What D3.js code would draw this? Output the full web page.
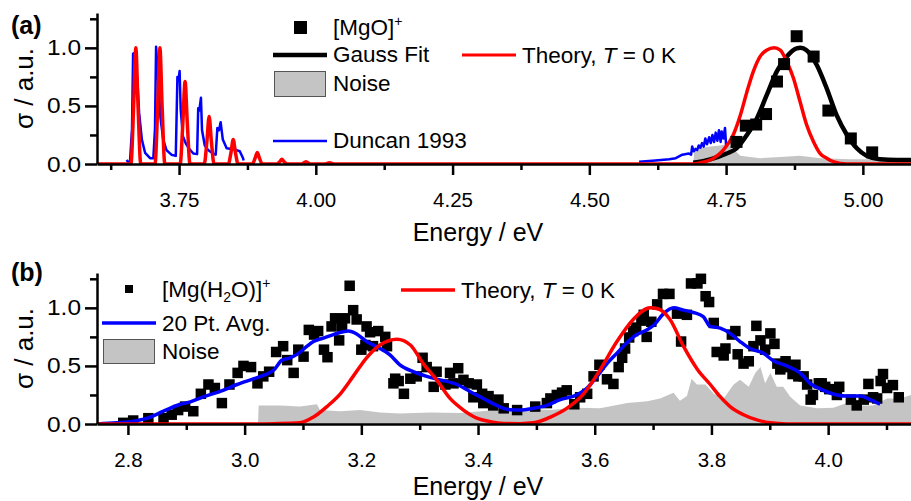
<!DOCTYPE html>
<head>
  <meta charset="utf-8" />
  <script src="https://d3js.org/d3.v7.min.js"></script>
  <style>
    body { margin: 0; background: #fff; }
    svg { font-family: "Liberation Sans", Arial, sans-serif; }
  </style>
</head>
<body>
<script>
// ---- panel (a) : [MgO]+ ----
var mgoPoints = [[4.769,0.19],[4.786,0.33],[4.805,0.34],[4.823,0.43],[4.843,0.71],[4.856,0.86],
  [4.879,1.10],[4.910,0.925],[4.937,0.46],[4.978,0.22],[5.017,0.10]];
var mgoFit = [[4.690,0.01],[4.721,0.04],[4.751,0.09],[4.769,0.135],[4.788,0.25],[4.806,0.39],
  [4.824,0.59],[4.843,0.80],[4.861,0.925],[4.879,0.995],[4.886,1.0],[4.897,0.98],[4.916,0.85],
  [4.934,0.65],[4.952,0.42],[4.971,0.25],[4.989,0.135],[5.007,0.07],[5.031,0.04],[5.062,0.035],[5.088,0.035]];
var mgoTheory = [[3.600,0],
  [3.662,0],[3.667,0.5],[3.671,1.0],[3.675,0.5],[3.680,0],
  [3.706,0],[3.711,0.5],[3.715,1.0],[3.719,0.5],[3.724,0],
  [3.752,0],[3.757,0.36],[3.761,0.71],[3.765,0.36],[3.770,0],
  [3.796,0],[3.801,0.2],[3.805,0.41],[3.809,0.2],[3.814,0],
  [3.840,0],[3.845,0.1],[3.849,0.21],[3.853,0.1],[3.858,0],
  [3.884,0],[3.889,0.05],[3.893,0.10],[3.897,0.05],[3.902,0],
  [3.929,0],[3.934,0.02],[3.938,0.04],[3.942,0.02],[3.947,0],
  [3.974,0],[3.982,0.02],[3.990,0],
  [4.017,0],[4.025,0.01],[4.033,0],
  [4.690,0],[4.702,0.01],[4.727,0.05],[4.745,0.12],[4.763,0.25],[4.776,0.42],[4.788,0.62],
  [4.800,0.80],[4.812,0.925],[4.824,0.98],[4.838,1.0],[4.849,0.98],[4.861,0.88],[4.873,0.74],
  [4.885,0.54],[4.897,0.34],[4.910,0.19],[4.922,0.09],[4.934,0.05],[4.946,0.02],[4.971,0],[5.088,0]];
var mgoNoise = [[4.690,0],[4.692,0.12],[4.702,0.14],[4.721,0.15],[4.739,0.16],[4.752,0.17],[4.761,0.14],
  [4.776,0.07],[4.812,0.05],[4.849,0.06],[4.885,0.07],[4.922,0.05],[4.977,0.04],[5.031,0.04],[5.088,0.03]];
var duncanLow = [[3.654,0.034],[3.660,0.0],[3.664,0.3],[3.666,0.95],[3.670,0.96],[3.674,0.7],[3.677,0.44],
  [3.682,0.21],[3.688,0.095],[3.697,0.05],[3.703,0.05],[3.706,0.3],[3.708,1.01],[3.712,0.72],[3.716,0.4],
  [3.721,0.21],[3.727,0.12],[3.736,0.08],[3.744,0.07],[3.747,0.75],[3.749,0.72],[3.751,0.80],[3.753,0.47],
  [3.757,0.24],[3.762,0.18],[3.767,0.14],[3.776,0.09],[3.783,0.085],[3.785,0.48],[3.787,0.46],[3.790,0.57],
  [3.792,0.29],[3.797,0.16],[3.803,0.12],[3.812,0.09],[3.817,0.08],[3.820,0.31],[3.823,0.29],[3.826,0.36],
  [3.830,0.21],[3.837,0.135],[3.846,0.13],[3.855,0.12],[3.861,0.11],[3.867,0.05],[3.868,0.03]];
var duncanHigh = [[4.591,0.02],[4.621,0.03],[4.646,0.04],[4.658,0.05],[4.670,0.08],[4.682,0.09],[4.686,0.08],
  [4.688,0.15],[4.691,0.11],[4.694,0.13],[4.697,0.12],[4.700,0.16],[4.703,0.14],[4.706,0.18],[4.709,0.15],
  [4.712,0.22],[4.715,0.17],[4.719,0.23],[4.722,0.18],[4.725,0.25],[4.728,0.19],[4.731,0.27],[4.734,0.20],
  [4.737,0.29],[4.740,0.19],[4.742,0.28],[4.745,0.22],[4.748,0.31],[4.750,0.16]];

// ---- panel (b) : [Mg(H2O)]+ ----
var mgwPoints = [[2.792,0.01],[2.809,0.03],[2.835,0.05],[2.861,0.05],[2.875,0.08],[2.886,0.12],[2.898,0.15],
  [2.912,0.11],[2.925,0.26],[2.938,0.34],[2.949,0.31],[2.961,0.18],[2.974,0.34],[2.988,0.44],[2.998,0.50],
  [3.011,0.49],[3.022,0.35],[3.032,0.41],[3.042,0.45],[3.054,0.62],[3.066,0.67],[3.073,0.55],[3.084,0.44],
  [3.092,0.64],[3.101,0.58],[3.110,0.81],[3.119,0.77],[3.126,0.80],[3.136,0.64],[3.142,0.575],[3.149,0.84],
  [3.155,0.91],[3.162,0.72],[3.167,0.84],[3.172,0.91],[3.180,1.19],[3.186,0.98],[3.192,0.90],[3.200,0.64],
  [3.207,0.68],[3.209,0.84],[3.215,0.79],[3.220,0.67],[3.229,0.80],[3.241,0.75],[3.244,0.67],[3.255,0.35],
  [3.258,0.39],[3.264,0.37],[3.273,0.26],[3.284,0.39],[3.295,0.41],[3.305,0.57],[3.312,0.49],[3.324,0.32],
  [3.329,0.45],[3.344,0.34],[3.352,0.44],[3.358,0.35],[3.366,0.48],[3.375,0.38],[3.384,0.35],[3.392,0.23],
  [3.398,0.34],[3.407,0.26],[3.409,0.18],[3.418,0.24],[3.426,0.16],[3.435,0.21],[3.444,0.135],[3.467,0.12],
  [3.498,0.15],[3.518,0.18],[3.524,0.22],[3.535,0.25],[3.544,0.27],[3.552,0.29],[3.565,0.17],[3.575,0.23],
  [3.587,0.26],[3.598,0.41],[3.608,0.51],[3.621,0.385],[3.632,0.345],[3.641,0.49],[3.647,0.57],[3.652,0.65],
  [3.659,0.745],[3.666,0.80],[3.671,0.83],[3.680,0.89],[3.684,0.94],[3.689,0.75],[3.697,0.88],[3.707,1.03],
  [3.717,1.12],[3.728,1.12],[3.741,0.95],[3.748,0.71],[3.758,0.94],[3.765,1.21],[3.776,1.21],[3.782,1.25],
  [3.790,1.10],[3.796,1.05],[3.804,0.87],[3.809,0.62],[3.821,0.59],[3.824,0.65],[3.835,0.77],[3.841,0.80],
  [3.845,0.60],[3.855,0.52],[3.864,0.54],[3.872,0.67],[3.877,0.845],[3.884,0.72],[3.892,0.64],[3.901,0.78],
  [3.908,0.69],[3.913,0.52],[3.918,0.47],[3.927,0.54],[3.932,0.49],[3.939,0.43],[3.944,0.51],[3.949,0.41],
  [3.958,0.41],[3.964,0.34],[3.970,0.21],[3.974,0.25],[3.984,0.35],[3.989,0.35],[3.995,0.32],[4.002,0.30],
  [4.015,0.25],[4.019,0.32],[4.039,0.21],[4.049,0.16],[4.061,0.21],[4.069,0.345],[4.077,0.23],[4.084,0.22],
  [4.090,0.37],[4.094,0.43],[4.101,0.31],[4.111,0.335],[4.121,0.23]];
var mgwAvg = [[2.747,0.0],[2.781,0.01],[2.804,0.02],[2.833,0.05],[2.861,0.11],[2.890,0.17],[2.907,0.19],
  [2.930,0.235],[2.958,0.28],[2.987,0.34],[3.016,0.39],[3.033,0.42],[3.050,0.465],[3.064,0.55],[3.078,0.57],
  [3.093,0.61],[3.107,0.67],[3.118,0.71],[3.135,0.74],[3.152,0.77],[3.178,0.80],[3.192,0.775],[3.209,0.71],
  [3.232,0.65],[3.249,0.595],[3.266,0.51],[3.289,0.45],[3.312,0.41],[3.335,0.38],[3.364,0.34],[3.386,0.28],
  [3.409,0.22],[3.432,0.16],[3.449,0.127],[3.472,0.12],[3.495,0.135],[3.518,0.16],[3.541,0.21],[3.564,0.24],
  [3.587,0.31],[3.604,0.41],[3.621,0.52],[3.638,0.61],[3.655,0.70],[3.672,0.77],[3.689,0.81],[3.701,0.85],
  [3.718,0.95],[3.735,1.0],[3.752,0.98],[3.769,0.96],[3.786,0.925],[3.798,0.84],[3.815,0.825],[3.832,0.78],
  [3.849,0.71],[3.866,0.65],[3.889,0.61],[3.906,0.545],[3.929,0.50],[3.952,0.44],[3.969,0.35],[3.992,0.29],
  [4.015,0.25],[4.032,0.24],[4.055,0.24],[4.072,0.21],[4.089,0.17]];
var mgwTheory = [[2.747,0],[3.000,0],[3.050,0.003],[3.095,0.01],[3.118,0.06],[3.141,0.15],[3.164,0.26],
  [3.186,0.41],[3.209,0.57],[3.232,0.68],[3.261,0.73],[3.284,0.68],[3.306,0.52],[3.329,0.38],[3.352,0.22],
  [3.375,0.12],[3.398,0.05],[3.421,0.02],[3.444,0.005],[3.472,0.003],[3.495,0.01],[3.524,0.06],[3.552,0.135],
  [3.581,0.26],[3.609,0.465],[3.638,0.71],[3.666,0.90],[3.695,1.0],[3.709,0.99],[3.729,0.90],[3.752,0.67],
  [3.776,0.47],[3.798,0.34],[3.815,0.235],[3.832,0.15],[3.855,0.08],[3.878,0.035],[3.901,0.01],[3.929,0],[4.142,0]];
var mgwNoise = [[3.023,0],[3.024,0.16],[3.061,0.16],[3.095,0.15],[3.124,0.17],[3.129,0.12],[3.164,0.11],
  [3.198,0.12],[3.232,0.10],[3.266,0.09],[3.318,0.10],[3.369,0.095],[3.416,0.115],[3.450,0.13],[3.489,0.13],
  [3.524,0.12],[3.566,0.14],[3.609,0.135],[3.656,0.18],[3.690,0.195],[3.712,0.22],[3.735,0.27],[3.746,0.20],
  [3.758,0.24],[3.766,0.39],[3.775,0.34],[3.790,0.34],[3.804,0.26],[3.821,0.22],[3.838,0.34],[3.849,0.38],
  [3.864,0.32],[3.875,0.44],[3.884,0.49],[3.892,0.35],[3.901,0.44],[3.912,0.32],[3.923,0.32],[3.935,0.235],
  [3.952,0.16],[3.981,0.135],[4.009,0.14],[4.032,0.18],[4.055,0.16],[4.077,0.16],[4.101,0.22],[4.124,0.22],[4.142,0.25]];

// ---- ticks ----
var ticksA = [3.75, 4.00, 4.25, 4.50, 4.75, 5.00];
var minorA = [3.625, 3.875, 4.125, 4.375, 4.625, 4.875];
var ticksB = [2.8, 3.0, 3.2, 3.4, 3.6, 3.8, 4.0];
var minorB = [2.9, 3.1, 3.3, 3.5, 3.7, 3.9, 4.1];
var yTicks = [0, 0.5, 1.0];
var yMinor = [0.25, 0.75, 1.25];

var width = 911, height = 501;
var svg = d3.select("body").append("svg")
  .attr("width", width).attr("height", height);

function panel(id, xDom, top, bottom, xTicks, xMinor, xFmt, titleY) {
  var x = d3.scaleLinear().domain(xDom).range([97, 911]);
  var y = d3.scaleLinear().domain([0, 1.3]).range([bottom, top]);
  var g = svg.append("g");
  svg.append("clipPath").attr("id", id)
    .append("rect").attr("x", 97).attr("y", top - 10).attr("width", 814).attr("height", bottom - top + 10);
  var plot = g.append("g").attr("clip-path", "url(#" + id + ")");

  // axes
  var xa = g.append("g").attr("transform", "translate(0," + bottom + ")")
    .call(d3.axisBottom(x).tickValues(xTicks).tickFormat(d3.format(xFmt))
      .tickSize(11).tickSizeOuter(0).tickPadding(17));
  g.append("g").attr("transform", "translate(0," + bottom + ")")
    .call(d3.axisBottom(x).tickValues(xMinor).tickFormat("").tickSize(6).tickSizeOuter(0))
    .select(".domain").remove();
  var ya = g.append("g").attr("transform", "translate(97,0)")
    .call(d3.axisLeft(y).tickValues(yTicks).tickFormat(d3.format(".1f"))
      .tickSize(12).tickSizeOuter(0).tickPadding(4));
  g.append("g").attr("transform", "translate(97,0)")
    .call(d3.axisLeft(y).tickValues(yMinor).tickFormat("").tickSize(7).tickSizeOuter(0))
    .select(".domain").remove();
  g.selectAll("g").attr("font-family", null).attr("font-size", null);
  g.selectAll(".domain, .tick line").attr("stroke", "#000").attr("stroke-width", 2.5);
  xa.selectAll("text").attr("font-size", 20.5).attr("fill", "#000");
  ya.selectAll("text").attr("font-size", 22).attr("fill", "#000")
    .attr("textLength", 34).attr("lengthAdjust", "spacingAndGlyphs");

  g.append("text").attr("x", 478).attr("y", titleY)
    .attr("text-anchor", "middle").attr("font-size", 25).text("Energy / eV");
  g.append("text").attr("transform", "translate(33," + (top + bottom) / 2 + ") rotate(-90)")
    .attr("text-anchor", "middle").attr("font-size", 26).text("σ / a.u.");
  return {x: x, y: y, g: g, plot: plot};
}

function line(p, data, color, w, curve) {
  p.plot.append("path").datum(data)
    .attr("fill", "none").attr("stroke", color).attr("stroke-width", w)
    .attr("stroke-linejoin", "round")
    .attr("d", d3.line().x(d => p.x(d[0])).y(d => p.y(d[1])).curve(curve || d3.curveLinear));
}
function noise(p, data) {
  p.plot.append("path").datum(data).attr("fill", "#c4c4c4")
    .attr("d", d3.area().x(d => p.x(d[0])).y0(p.y(0)).y1(d => p.y(d[1])));
}
function squares(p, data, s) {
  p.plot.selectAll(null).data(data).join("rect")
    .attr("x", d => p.x(d[0]) - s / 2).attr("y", d => p.y(d[1]) - s / 2)
    .attr("width", s).attr("height", s).attr("fill", "#000");
}

// panel (a)
var a = panel("clipA", [3.6, 5.088], 13, 164, ticksA, minorA, ".2f", 241);
noise(a, mgoNoise);
line(a, duncanLow, "#0000ff", 2.5);
line(a, duncanHigh, "#0000ff", 2.5);
line(a, mgoFit, "#000", 4.5, d3.curveMonotoneX);
line(a, mgoTheory, "#ff0000", 3.5, d3.curveMonotoneX);
squares(a, mgoPoints, 12);

// panel (b)
var b = panel("clipB", [2.747, 4.142], 273, 424, ticksB, minorB, ".1f", 495);
noise(b, mgwNoise);
squares(b, mgwPoints, 10.5);
line(b, mgwAvg, "#0000ff", 3.5, d3.curveMonotoneX);
line(b, mgwTheory, "#ff0000", 3.5, d3.curveMonotoneX);

// panel labels
svg.append("text").attr("x", 11).attr("y", 34).attr("font-size", 25).attr("font-weight", "bold").text("(a)");
svg.append("text").attr("x", 11).attr("y", 281).attr("font-size", 25).attr("font-weight", "bold").text("(b)");

// legends
var L = svg.append("g").attr("font-size", 22.5);
L.append("rect").attr("x", 294).attr("y", 21).attr("width", 13).attr("height", 13).attr("fill", "#000");
var t1 = L.append("text").attr("x", 333).attr("y", 35).text("[MgO]");
t1.append("tspan").attr("font-size", 14).attr("dy", -9).text("+");
L.append("line").attr("x1", 273).attr("x2", 327).attr("y1", 55).attr("y2", 55).attr("stroke", "#000").attr("stroke-width", 4.5);
L.append("text").attr("x", 333).attr("y", 62).text("Gauss Fit");
L.append("rect").attr("x", 274.5).attr("y", 71.5).attr("width", 51).attr("height", 25).attr("fill", "#c4c4c4").attr("stroke", "#555");
L.append("text").attr("x", 333).attr("y", 91).text("Noise");
L.append("line").attr("x1", 273).attr("x2", 327).attr("y1", 141).attr("y2", 141).attr("stroke", "#0000ff").attr("stroke-width", 2.5);
L.append("text").attr("x", 333).attr("y", 148).text("Duncan 1993");
L.append("line").attr("x1", 462).attr("x2", 516).attr("y1", 55).attr("y2", 55).attr("stroke", "#ff0000").attr("stroke-width", 3);
var t2 = L.append("text").attr("x", 522).attr("y", 63).text("Theory, ");
t2.append("tspan").attr("font-style", "italic").text("T");
t2.append("tspan").text(" = 0 K");

L.append("rect").attr("x", 125).attr("y", 285).attr("width", 8).attr("height", 8).attr("fill", "#000");
var t3 = L.append("text").attr("x", 162).attr("y", 297).text("[Mg(H");
t3.append("tspan").attr("font-size", 14).attr("dy", 5).text("2");
t3.append("tspan").attr("dy", -5).text("O)]");
t3.append("tspan").attr("font-size", 14).attr("dy", -9).text("+");
L.append("line").attr("x1", 102).attr("x2", 156).attr("y1", 323).attr("y2", 323).attr("stroke", "#0000ff").attr("stroke-width", 3.5);
L.append("text").attr("x", 162).attr("y", 331).text("20 Pt. Avg.");
L.append("rect").attr("x", 103.5).attr("y", 339.5).attr("width", 51).attr("height", 24).attr("fill", "#c4c4c4").attr("stroke", "#555");
L.append("text").attr("x", 162).attr("y", 359).text("Noise");
L.append("line").attr("x1", 401).attr("x2", 455).attr("y1", 290).attr("y2", 290).attr("stroke", "#ff0000").attr("stroke-width", 3.5);
var t4 = L.append("text").attr("x", 461).attr("y", 298).text("Theory, ");
t4.append("tspan").attr("font-style", "italic").text("T");
t4.append("tspan").text(" = 0 K");
</script>
</body>
